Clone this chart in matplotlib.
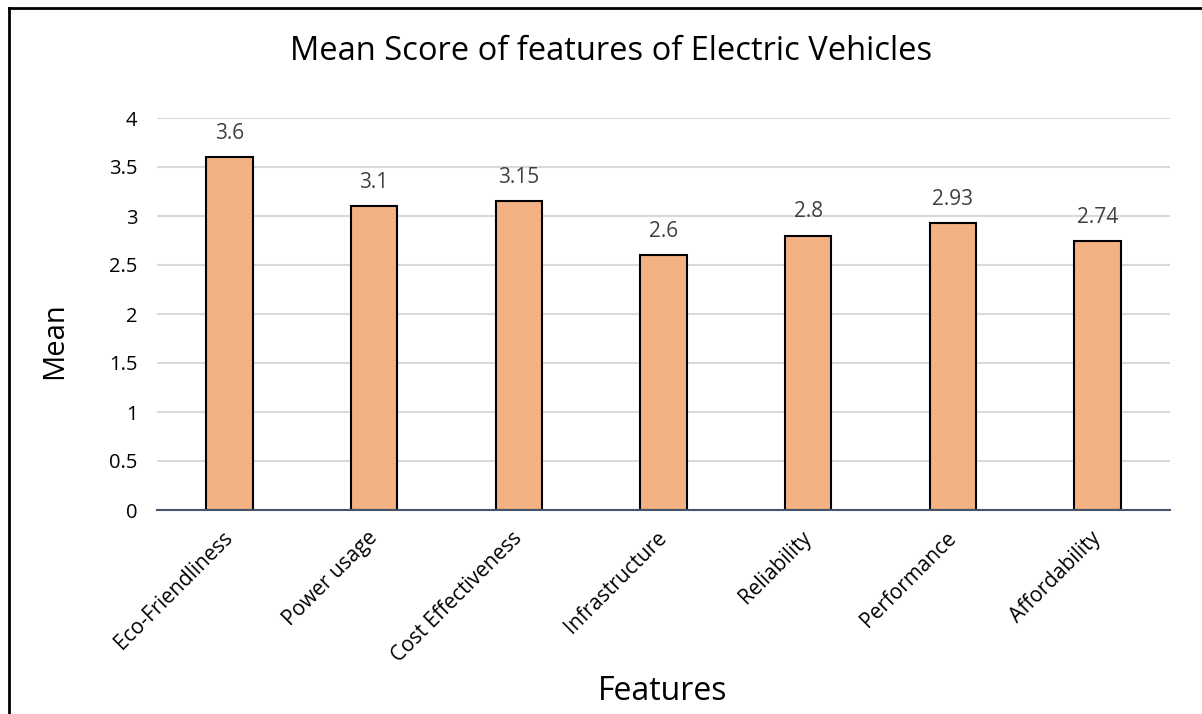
import matplotlib.pyplot as plt
from matplotlib.lines import Line2D

features = ["Eco-Friendliness", "Power usage", "Cost Effectiveness", "Infrastructure",
            "Reliability", "Performance", "Affordability"]
means = [3.6, 3.1, 3.15, 2.6, 2.8, 2.93, 2.74]
mean_labels = ["3.6", "3.1", "3.15", "2.6", "2.8", "2.93", "2.74"]
yticks = [0, 0.5, 1, 1.5, 2, 2.5, 3, 3.5, 4]
ytick_labels = ["0", "0.5", "1", "1.5", "2", "2.5", "3", "3.5", "4"]

plt.rcParams['font.family'] = ['Open Sans', 'DejaVu Sans']

fig = plt.figure(figsize=(12.02, 7.14), dpi=100)
ax = fig.add_axes([157 / 1202, 1 - 510 / 714, (1170 - 157) / 1202, (510 - 118) / 714])

x = range(len(features))
bars = ax.bar(x, means, width=0.32, color="#F4B183", edgecolor="black", linewidth=1.5, zorder=3)
for b, lab in zip(bars, mean_labels):
    ax.annotate(lab, (b.get_x() + b.get_width() / 2, b.get_height()), xytext=(0, 17),
                textcoords="offset points", ha="center", va="center", fontsize=15, color="#404040")

ax.set_xlim(-0.5, len(features) - 0.5)
ax.set_ylim(0, 4)
ax.set_yticks(yticks)
ax.set_yticklabels(ytick_labels, fontsize=14.5)
ax.set_xticks(list(x))
ax.set_xticklabels(features, fontsize=15, rotation=45, ha="right", va="center",
                   rotation_mode="anchor")
ax.tick_params(axis="both", length=0)
ax.tick_params(axis="y", pad=14)
ax.tick_params(axis="x", pad=18)
ax.grid(axis="y", color="#D9D9D9", linewidth=1.5, zorder=0)
for s in ["top", "right", "left"]:
    ax.spines[s].set_visible(False)
ax.spines["bottom"].set_color("#44546A")
ax.spines["bottom"].set_linewidth(1.5)
ax.spines["bottom"].set_zorder(4)

fig.text(611 / 1202, 1 - 52 / 714, "Mean Score of features of Electric Vehicles",
         ha="center", va="center", fontsize=23.5)
fig.text(663 / 1202, 1 - 692 / 714, "Features", ha="center", va="center", fontsize=23)
fig.text(55 / 1202, 1 - 341 / 714, "Mean", ha="center", va="center", fontsize=21, rotation=90)

# outer chart border (left and top only visible)
fig.add_artist(Line2D([9 / 1202, 9 / 1202], [0, 1 - 8 / 714], color="black", linewidth=2,
                      transform=fig.transFigure))
fig.add_artist(Line2D([9 / 1202, 1], [1 - 8 / 714, 1 - 8 / 714], color="black", linewidth=2,
                      transform=fig.transFigure))

fig.savefig("out.png", dpi=100)
